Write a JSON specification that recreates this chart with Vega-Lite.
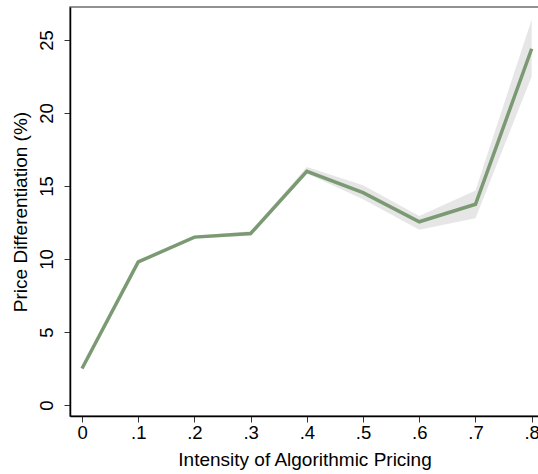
{
  "$schema": "https://vega.github.io/schema/vega-lite/v6.json",
  "autosize": "none",
  "padding": {"left": 70, "top": 7, "right": 0, "bottom": 58},
  "width": 469,
  "height": 409,
  "background": "white",
  "config": {
    "font": "Liberation Sans",
    "view": {"stroke": "#6e6e6e", "strokeWidth": 1.5},
    "axis": {
      "grid": false,
      "domainColor": "black",
      "domainWidth": 1.5,
      "tickColor": "#333333",
      "tickSize": 6,
      "labelColor": "black",
      "titleColor": "black",
      "titleFontWeight": "normal",
      "labelFont": "Liberation Sans",
      "titleFont": "Liberation Sans"
    }
  },
  "data": {
    "values": [
      {"x": 0.0, "y": 2.5, "lo": 2.4, "hi": 2.6},
      {"x": 0.1, "y": 9.8, "lo": 9.7, "hi": 9.9},
      {"x": 0.2, "y": 11.5, "lo": 11.4, "hi": 11.6},
      {"x": 0.3, "y": 11.75, "lo": 11.6, "hi": 11.9},
      {"x": 0.4, "y": 16.0, "lo": 15.85, "hi": 16.3},
      {"x": 0.5, "y": 14.55, "lo": 14.1, "hi": 15.05},
      {"x": 0.6, "y": 12.55, "lo": 12.0, "hi": 12.95},
      {"x": 0.7, "y": 13.75, "lo": 12.8, "hi": 14.7},
      {"x": 0.8, "y": 24.4, "lo": 22.5, "hi": 26.4}
    ]
  },
  "layer": [
    {
      "mark": {"type": "area", "color": "#d9d9d9", "opacity": 0.65},
      "encoding": {
        "x": {"field": "x", "type": "quantitative"},
        "y": {"field": "lo", "type": "quantitative"},
        "y2": {"field": "hi"}
      }
    },
    {
      "mark": {"type": "line", "color": "#7b9a73", "strokeWidth": 3.5},
      "encoding": {
        "x": {
          "field": "x",
          "type": "quantitative",
          "scale": {"domain": [-0.0214, 0.813], "nice": false, "zero": false},
          "axis": {
            "values": [0, 0.1, 0.2, 0.3, 0.4, 0.5, 0.6, 0.7, 0.8],
            "labelExpr": "datum.value == 0 ? '0' : replace(format(datum.value, '.1f'), '0.', '.')",
            "labelFontSize": 18.5,
            "labelPadding": 1,
            "labelFlush": false,
            "labelOverlap": false,
            "title": "Intensity of Algorithmic Pricing",
            "titleFontSize": 19,
            "titlePadding": 9
          }
        },
        "y": {
          "field": "y",
          "type": "quantitative",
          "scale": {"domain": [-0.75, 27.26], "nice": false, "zero": false},
          "axis": {
            "values": [0, 5, 10, 15, 20, 25],
            "labelAngle": -90,
            "labelAlign": "center",
            "labelBaseline": "bottom",
            "labelFontSize": 18.5,
            "labelPadding": 8,
            "labelFlush": false,
            "labelOverlap": false,
            "title": "Price Differentiation (%)",
            "titleFontSize": 19,
            "titlePadding": 7
          }
        }
      }
    }
  ]
}
